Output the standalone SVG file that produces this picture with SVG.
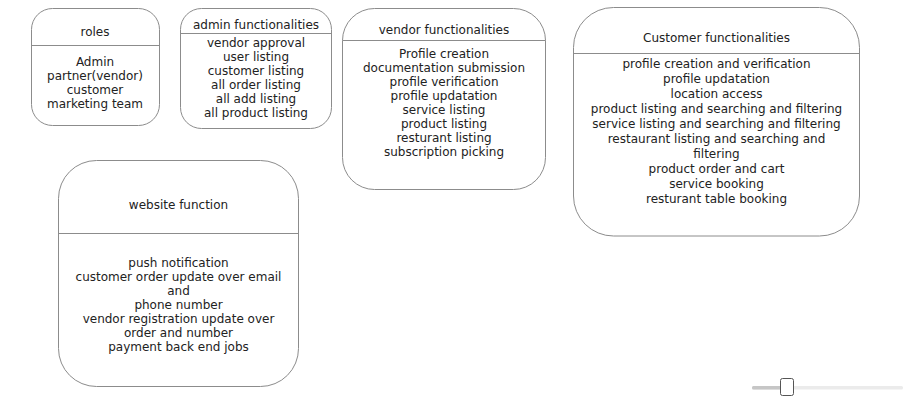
<svg xmlns="http://www.w3.org/2000/svg" width="903" height="401" viewBox="0 0 903 401">
<style>
.box{fill:#ffffff;stroke:#8c8c8c;stroke-width:1}
.div{stroke:#8c8c8c;stroke-width:1}
text{font-family:"DejaVu Sans","Liberation Sans",sans-serif;font-size:12px;fill:#222222;text-anchor:middle}
</style>
<rect width="903" height="401" fill="#ffffff"/>
<g id="connectors"></g>
<g id="roles">
<rect class="box" x="31.5" y="8.5" width="128" height="117" rx="21"/>
<line class="div" x1="31.5" y1="45.5" x2="159.5" y2="45.5"/>
<text x="95" y="36">roles</text>
<text x="95" y="66">Admin</text>
<text x="95" y="80">partner(vendor)</text>
<text x="95" y="94">customer</text>
<text x="95" y="108">marketing team</text>
</g>
<g id="admin">
<rect class="box" x="180.5" y="8.5" width="151" height="120" rx="21"/>
<line class="div" x1="180.5" y1="33.5" x2="331.5" y2="33.5"/>
<text x="256" y="29">admin functionalities</text>
<text x="256" y="47">vendor approval</text>
<text x="256" y="61">user listing</text>
<text x="256" y="75">customer listing</text>
<text x="256" y="89">all order listing</text>
<text x="256" y="103">all add listing</text>
<text x="256" y="117">all product listing</text>
</g>
<g id="vendor">
<rect class="box" x="342.5" y="8.5" width="203" height="181" rx="32"/>
<line class="div" x1="342.5" y1="40.5" x2="545.5" y2="40.5"/>
<text x="444" y="34">vendor functionalities</text>
<text x="444" y="57.5">Profile creation</text>
<text x="444" y="71.5">documentation submission</text>
<text x="444" y="85.5">profile verification</text>
<text x="444" y="99.5">profile updatation</text>
<text x="444" y="113.5">service listing</text>
<text x="444" y="127.5">product listing</text>
<text x="444" y="141.5">resturant listing</text>
<text x="444" y="155.5">subscription picking</text>
</g>
<g id="customer">
<rect class="box" x="573.5" y="7.5" width="286" height="228.5" rx="40"/>
<line class="div" x1="573.5" y1="53.5" x2="859.5" y2="53.5"/>
<text x="716.5" y="41.5">Customer functionalities</text>
<text x="716.5" y="67.5">profile creation and verification</text>
<text x="716.5" y="82.5">profile updatation</text>
<text x="716.5" y="97.5">location access</text>
<text x="716.5" y="112.5">product listing and searching and filtering</text>
<text x="716.5" y="127.5">service listing and searching and filtering</text>
<text x="716.5" y="142.5">restaurant listing and searching and</text>
<text x="716.5" y="157.5">filtering</text>
<text x="716.5" y="172.5">product order and cart</text>
<text x="716.5" y="187.5">service booking</text>
<text x="716.5" y="202.5">resturant table booking</text>
</g>
<g id="website">
<rect class="box" x="58.5" y="160.5" width="240" height="226" rx="38"/>
<line class="div" x1="58.5" y1="233.5" x2="298.5" y2="233.5"/>
<text x="178.5" y="208.5">website function</text>
<text x="178.5" y="266.5">push notification</text>
<text x="178.5" y="280.5">customer order update over email</text>
<text x="178.5" y="294.5">and</text>
<text x="178.5" y="308.5">phone number</text>
<text x="178.5" y="322.5">vendor registration update over</text>
<text x="178.5" y="336.5">order and number</text>
<text x="178.5" y="350.5">payment back end jobs</text>
</g>
<g id="slider">
<rect x="752" y="386" width="151" height="3.5" rx="1.5" fill="#ebebeb"/>
<rect x="752" y="386" width="34" height="3.5" rx="1.5" fill="#c6c6c6"/>
<rect x="780.5" y="378.5" width="13" height="17" rx="2" fill="#ffffff" stroke="#555555" stroke-width="1"/>
</g>
</svg>
